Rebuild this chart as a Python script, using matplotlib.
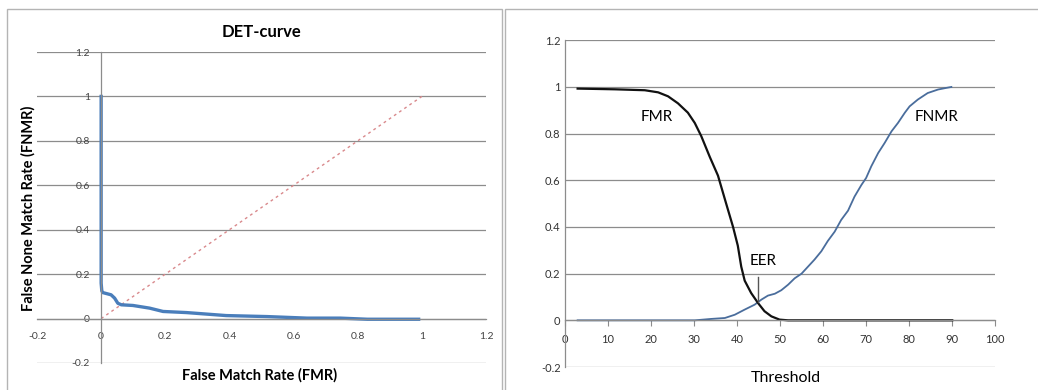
import matplotlib
matplotlib.use("Agg")
import matplotlib.pyplot as plt
from matplotlib.patches import Rectangle

plt.rcParams['font.family'] = ['Lato', 'DejaVu Sans']

# DET curve (FMR vs FNMR)
det_fmr = [0.0, 0.0, 0.0, 0.002, 0.005, 0.031, 0.042, 0.052, 0.063, 0.099, 0.151,
           0.193, 0.266, 0.39, 0.517, 0.642, 0.746, 0.83, 0.99]
det_fnmr = [1.0, 0.4, 0.16, 0.125, 0.117, 0.107, 0.092, 0.069, 0.062, 0.059, 0.047,
            0.032, 0.027, 0.0135, 0.009, 0.002, 0.002, -0.003, -0.003]
diag = [0, 1]

# error rates vs threshold
thr_fmr = [3, 11.6, 18.6, 21.7, 24, 26.3, 28.6, 30.2, 31.7, 33.7, 35.6, 37.5, 39.1,
           40.2, 41, 41.8, 43.3, 44.9, 46.4, 48, 49.9, 51.9, 60, 70, 80, 90]
fmr = [0.993, 0.99, 0.986, 0.977, 0.96, 0.93, 0.89, 0.846, 0.79, 0.70, 0.62, 0.50, 0.40,
       0.32, 0.23, 0.17, 0.117, 0.074, 0.039, 0.017, 0.003, 0.0, 0.0, 0.0, 0.0, 0.0]
thr_fnmr = [3, 10, 20, 30.2, 34, 37.2, 39.5, 41.8, 44.1, 45.7, 47.2, 48.8, 50.3, 51.9,
            53.4, 55, 56.5, 58, 59.6, 61.1, 62.7, 64.2, 65.8, 67.3, 68.9, 70, 71.2, 72.8,
            74.3, 75.9, 77.4, 79, 80.1, 82, 84.3, 86.7, 88.6, 89.8]
fnmr = [0.0, 0.0, 0.0, 0.0, 0.006, 0.01, 0.024, 0.046, 0.067, 0.089, 0.106, 0.114, 0.129,
        0.153, 0.18, 0.2, 0.23, 0.26, 0.296, 0.34, 0.38, 0.43, 0.47, 0.53, 0.58, 0.61,
        0.66, 0.717, 0.76, 0.81, 0.846, 0.89, 0.917, 0.946, 0.974, 0.989, 0.996, 1.0]

det_xticks = [-0.2, 0, 0.2, 0.4, 0.6, 0.8, 1, 1.2]
yticks = [-0.2, 0, 0.2, 0.4, 0.6, 0.8, 1, 1.2]
thr_xticks = [0, 10, 20, 30, 40, 50, 60, 70, 80, 90, 100]
eer_x = 44.9


def fmt(v):
    return "{:g}".format(round(v, 1))


fig = plt.figure(figsize=(10.38, 3.9), dpi=100)
W, H = 1038, 390

# panel frames
fig.add_artist(Rectangle((7 / W, -0.05), 495 / W, 1 - 9 / H + 0.05, transform=fig.transFigure,
                         fill=False, ec='#b4b4b4', lw=1))
fig.add_artist(Rectangle((505 / W, -0.05), 540 / W, 1 - 9 / H + 0.05, transform=fig.transFigure,
                         fill=False, ec='#b4b4b4', lw=1))

grid_c = '#8c8c8c'

# left: DET curve
ax1 = fig.add_axes([37 / W, 1 - 363 / H, 449 / W, 311 / H])
ax1.plot(diag, diag, color='#d9898c', lw=1, ls=(0, (2, 2.5)))
ax1.plot(det_fmr, det_fnmr, color='#4a7ebb', lw=2.4, solid_joinstyle='round')
ax1.set_xlim(-0.2, 1.2)
ax1.set_ylim(-0.2, 1.2)
ax1.set_xticks(det_xticks)
ax1.set_yticks(yticks)
ax1.set_xticklabels([fmt(v) for v in det_xticks])
ax1.set_yticklabels([fmt(v) for v in yticks])
ax1.spines['left'].set_position(('data', 0))
ax1.spines['bottom'].set_position(('data', 0))
for s in ['top', 'right']:
    ax1.spines[s].set_visible(False)
for s in ['left', 'bottom']:
    ax1.spines[s].set_color(grid_c)
    ax1.spines[s].set_linewidth(0.9)
ax1.tick_params(axis='x', length=0, pad=10, labelsize=7.5, labelcolor='#444444')
ax1.tick_params(axis='y', length=0, pad=8, labelsize=7.5, labelcolor='#444444')
for y in yticks:
    ax1.axhline(y, color=grid_c, lw=0.9, zorder=0)
ax1.set_title("DET-curve", fontsize=12, fontweight='bold', pad=11)
fig.text(260 / W, 1 - 375 / H, "False Match Rate (FMR)", ha='center', va='center',
         fontsize=10.5, fontweight='bold')
fig.text(28 / W, 1 - 208 / H, "False None Match Rate (FNMR)", ha='center', va='center',
         rotation=90, fontsize=10.5, fontweight='bold')
ax1.patch.set_alpha(0)

# right: FMR / FNMR vs threshold
ax2 = fig.add_axes([564.7 / W, 1 - 367 / H, 430.6 / W, 326.7 / H])
ax2.plot(thr_fnmr, fnmr, color='#4a6d9c', lw=1.3)
ax2.plot(thr_fmr, fmr, color='#111111', lw=1.6)
ax2.set_xlim(0, 100)
ax2.set_ylim(-0.2, 1.2)
ax2.set_xticks(thr_xticks)
ax2.set_yticks(yticks)
ax2.set_yticklabels([fmt(v) for v in yticks])
ax2.spines['left'].set_position(('data', 0))
ax2.spines['bottom'].set_position(('data', 0))
for s in ['top', 'right']:
    ax2.spines[s].set_visible(False)
for s in ['left', 'bottom']:
    ax2.spines[s].set_color(grid_c)
    ax2.spines[s].set_linewidth(0.9)
ax2.tick_params(axis='x', length=4, direction='out', color=grid_c, pad=6,
                labelsize=8, labelcolor='#333333')
ax2.tick_params(axis='y', length=0, pad=3, labelsize=8, labelcolor='#333333')
for y in yticks:
    ax2.axhline(y, color=grid_c, lw=0.9, zorder=0)
ax2.plot([eer_x, eer_x], [0.08, 0.186], color='#555555', lw=1)
ax2.text(46, 0.255, "EER", ha='center', va='center', fontsize=11)
ax2.text(21.3, 0.87, "FMR", ha='center', va='center', fontsize=11)
ax2.text(86.3, 0.87, "FNMR", ha='center', va='center', fontsize=11)
fig.text(786 / W, 1 - 378 / H, "Threshold", ha='center', va='center', fontsize=11.5)
ax2.patch.set_alpha(0)

fig.savefig("out.png", dpi=100)
